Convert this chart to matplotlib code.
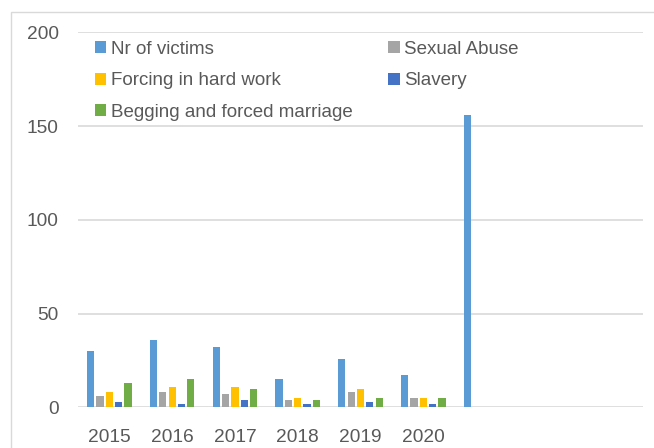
import matplotlib.pyplot as plt
import numpy as np
from matplotlib.patches import Rectangle

# category labels; the 7th column is the unlabeled total, last two are empty
categories = ['2015', '2016', '2017', '2018', '2019', '2020', '', '', '']
nan = np.nan
victims = [30, 36, 32, 15, 26, 17, 156, nan, nan]
sexual_abuse = [6, 8, 7, 4, 8, 5, nan, nan, nan]
hard_work = [8, 11, 11, 5, 10, 5, nan, nan, nan]
slavery = [3, 2, 4, 2, 3, 2, nan, nan, nan]
begging = [13, 15, 10, 4, 5, 5, nan, nan, nan]

series_names = ['Nr of victims', 'Sexual Abuse', 'Forcing in hard work',
                'Slavery', 'Begging and forced marriage']
colors = ['#5B9BD5', '#A5A5A5', '#FFC000', '#4472C4', '#70AD47']
yticks = [0, 50, 100, 150, 200]

plt.rcParams['font.family'] = ['Liberation Sans', 'DejaVu Sans']

fig = plt.figure(figsize=(6.54, 4.48), dpi=100)
ax = fig.add_axes([78 / 654, 1 - 407.3 / 448, 565 / 654, 375 / 448])

# outer chart frame
fig.patches.append(Rectangle((11 / 654, -0.1), 1.2, 1.1 - 12 / 448,
                             transform=fig.transFigure, fill=False,
                             edgecolor='#D9D9D9', linewidth=1.0))

x = np.arange(len(categories))
width = 0.116
step = 0.1486
all_series = [victims, sexual_abuse, hard_work, slavery, begging]
handles = []
for i, (vals, name, col) in enumerate(zip(all_series, series_names, colors)):
    b = ax.bar(x + (i - 2) * step, np.array(vals, dtype=float), width,
               color=col, label=name, zorder=3)
    handles.append(b)

ax.set_xlim(-0.5, len(categories) - 0.5)
ax.set_ylim(0, 200)
ax.set_yticks(yticks)
ax.set_xticks(x)
ax.set_xticklabels(categories)
ax.yaxis.grid(True, color='#D9D9D9', linewidth=1.2, zorder=0)
for s in ax.spines.values():
    s.set_visible(False)
ax.tick_params(axis='both', length=0, labelsize=13.8, colors='#595959')
ax.tick_params(axis='y', pad=14)
ax.tick_params(axis='x', pad=15.5)

# legend rows: Nr / Sexual, Forcing / Slavery, Begging
order = [0, 2, 4, 1, 3]
leg = ax.legend([handles[k] for k in order], [series_names[k] for k in order],
                ncol=2, loc='upper left', bbox_to_anchor=(0.007, 1.013),
                frameon=False, fontsize=13.5, handlelength=0.6,
                handleheight=0.6, handletextpad=0.25, columnspacing=1.9,
                labelspacing=0.78, borderaxespad=0.3, labelcolor='#595959')

fig.savefig('out.png', dpi=100)
